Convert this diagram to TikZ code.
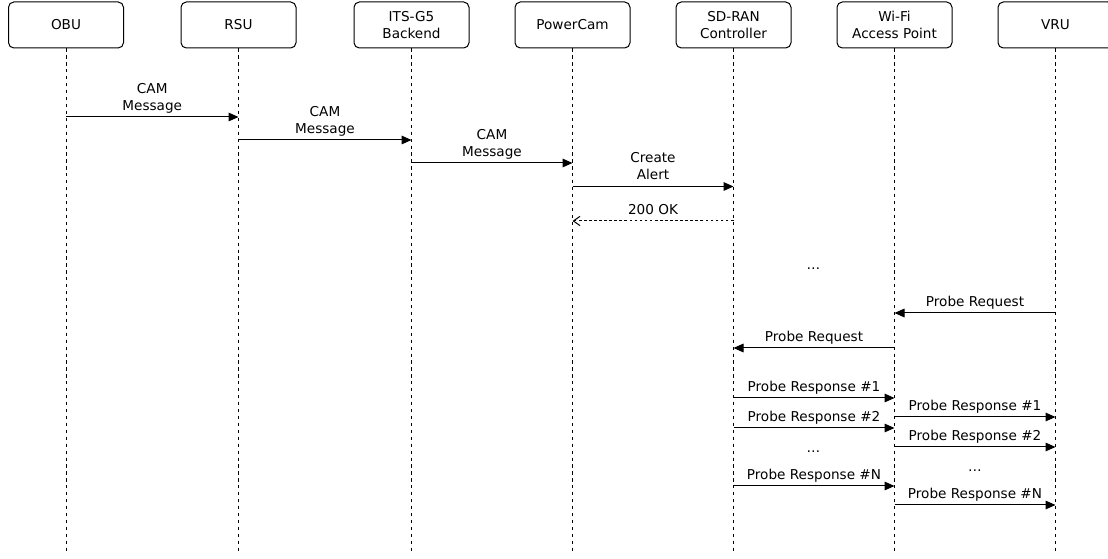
\documentclass[tikz,border=0pt]{standalone}
\usepackage{fontspec}
\setmainfont{DejaVu Sans}
\usepackage{tikz}
\usetikzlibrary{calc,arrows.meta}
\tikzset{
  actor/.style={draw, line width=0.75pt, rounded corners=4pt,
                minimum width=86.25pt, minimum height=34.5pt, align=center},
  lifeline/.style={line width=0.75pt, dash pattern=on 2.4pt off 2.8pt},
  msg/.style={line width=0.75pt, -{Triangle[length=7.5pt,width=6.5pt]}},
  reply/.style={line width=0.75pt, dash pattern=on 2pt off 1.8pt,
                -{Straight Barb[length=5pt,width=7pt]}},
  lbl/.style={midway, above, inner sep=2pt, text depth=0.25em, align=center},
  every node/.style={font=\fontsize{10.2}{12.75}\selectfont},
}
% message from lifeline #2 to lifeline #3 at height #4
\newcommand{\msgarrow}[5][msg]{%
  \draw[#1] (#2 |- 0,#4) -- (#3 |- 0,#4) node[lbl] {#5};}

\begin{document}
\begin{tikzpicture}[x=0.75pt,y=-0.75pt]
    \useasboundingbox (0,0) rectangle (1108,559);
    \clip (0,0) rectangle (1108,559);

    % participants
    \node[actor] (obu)   at (66,25)   {OBU};
    \node[actor] (rsu)   at (238.5,25) {RSU};
    \node[actor] (its)   at (411.5,25) {ITS-G5\\Backend};
    \node[actor] (pcam)  at (572.5,25) {PowerCam};
    \node[actor] (sdran) at (733.5,25) {SD-RAN\\Controller};
    \node[actor] (wifi)  at (894.5,25) {Wi-Fi\\Access Point};
    \node[actor] (vru)   at (1055.5,25) {VRU};

    \foreach \n in {obu,rsu,its,pcam,sdran,wifi,vru}
        \draw[lifeline] (\n.south) -- (\n.south |- 0,554);

    % alert chain
    \msgarrow{obu}{rsu}{117}{CAM\\Message}
    \msgarrow{rsu}{its}{140}{CAM\\Message}
    \msgarrow{its}{pcam}{163}{CAM\\Message}
    \msgarrow{pcam}{sdran}{186.5}{Create\\Alert}
    \msgarrow[reply]{sdran}{pcam}{221}{200 OK}

    \node[anchor=base] (dots1) at (813.5,270) {\ldots};

    % probing
    \msgarrow{vru}{wifi}{313}{Probe Request}
    \msgarrow{wifi}{sdran}{348}{Probe Request}

    \msgarrow{sdran}{wifi}{398}{Probe Response \#1}
    \msgarrow{wifi}{vru}{417}{Probe Response \#1}
    \msgarrow{sdran}{wifi}{428}{Probe Response \#2}
    \msgarrow{wifi}{vru}{447}{Probe Response \#2}
    \node[anchor=base] (dots2) at (813.5,453) {\ldots};
    \msgarrow{sdran}{wifi}{486}{Probe Response \#N}
    \node[anchor=base] (dots3) at (975,472) {\ldots};
    \msgarrow{wifi}{vru}{505}{Probe Response \#N}
\end{tikzpicture}
\end{document}
